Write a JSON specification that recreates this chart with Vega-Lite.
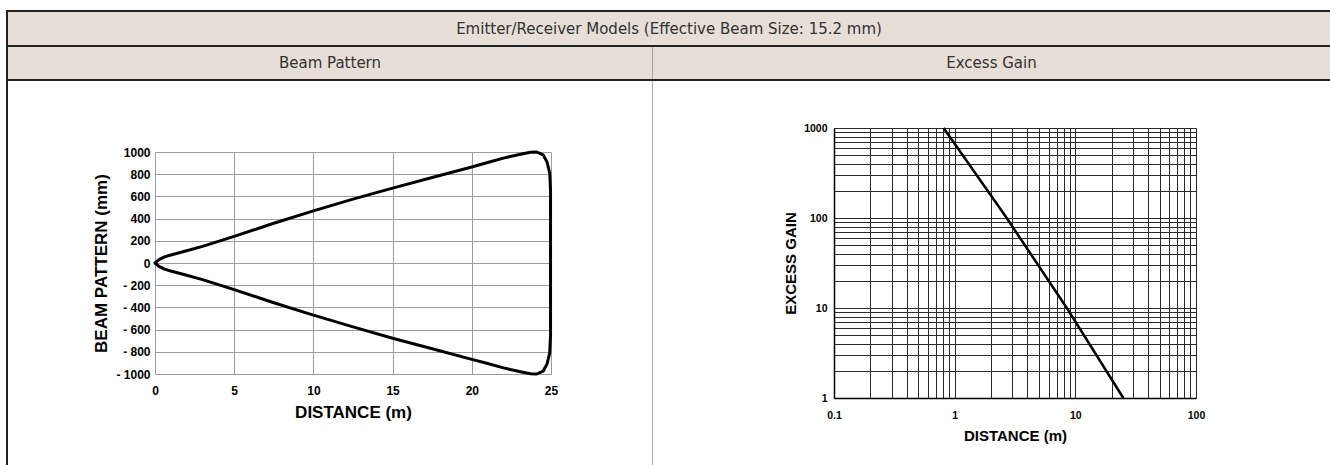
{
  "$schema": "https://vega.github.io/schema/vega-lite/v6.json",
  "padding": {"left": 6, "top": 10, "right": 0, "bottom": 0},
  "background": "white",
  "spacing": 0,
  "bounds": "full",
  "config": {
    "view": {"stroke": null},
    "concat": {"spacing": 0},
    "text": {"font": "DejaVu Sans", "fontSize": 15, "color": "#333"}
  },
  "datasets": {
    "none": [],
    "title": [{"label": "Emitter/Receiver Models (Effective Beam Size: 15.2 mm)"}],
    "left": [{"label": "Beam Pattern"}],
    "right": [{"label": "Excess Gain"}],
    "beam": [
      {"distance": 0, "beam": 0},
      {"distance": 0.25, "beam": 30},
      {"distance": 0.6, "beam": 55},
      {"distance": 1, "beam": 72},
      {"distance": 2, "beam": 110},
      {"distance": 3, "beam": 150},
      {"distance": 5, "beam": 240},
      {"distance": 7.5, "beam": 358},
      {"distance": 10, "beam": 470},
      {"distance": 12.5, "beam": 575},
      {"distance": 15, "beam": 675},
      {"distance": 17.5, "beam": 770},
      {"distance": 20, "beam": 865},
      {"distance": 21, "beam": 905},
      {"distance": 22, "beam": 945},
      {"distance": 23, "beam": 978},
      {"distance": 23.7, "beam": 997},
      {"distance": 24.1, "beam": 1000},
      {"distance": 24.5, "beam": 975},
      {"distance": 24.75, "beam": 910},
      {"distance": 24.92, "beam": 810},
      {"distance": 24.97, "beam": 650},
      {"distance": 24.97, "beam": -650},
      {"distance": 24.92, "beam": -810},
      {"distance": 24.75, "beam": -910},
      {"distance": 24.5, "beam": -975},
      {"distance": 24.1, "beam": -1000},
      {"distance": 23.7, "beam": -997},
      {"distance": 23, "beam": -978},
      {"distance": 22, "beam": -945},
      {"distance": 21, "beam": -905},
      {"distance": 20, "beam": -868},
      {"distance": 17.5, "beam": -772},
      {"distance": 15, "beam": -678},
      {"distance": 12.5, "beam": -575},
      {"distance": 10, "beam": -470},
      {"distance": 7.5, "beam": -358},
      {"distance": 5, "beam": -240},
      {"distance": 3, "beam": -150},
      {"distance": 2, "beam": -110},
      {"distance": 1, "beam": -72},
      {"distance": 0.6, "beam": -55},
      {"distance": 0.25, "beam": -30},
      {"distance": 0, "beam": 0}
    ],
    "gain": [
      {"distance": 0.81, "gain": 1000},
      {"distance": 2.7, "gain": 100},
      {"distance": 8.5, "gain": 10},
      {"distance": 25, "gain": 1}
    ]
  },
  "vconcat": [
    {"data": {"name": "none"}, "mark": "point", "encoding": {}, "width": 1324, "height": 2, "view": {"fill": "#222", "stroke": null}},
    {
      "hconcat": [
        {"data": {"name": "none"}, "mark": "point", "encoding": {}, "width": 2, "height": 33, "view": {"fill": "#222", "stroke": null}},
        {"data": {"name": "title"}, "mark": {"type": "text"}, "encoding": {"text": {"field": "label"}}, "width": 1322, "height": 33, "view": {"fill": "#e6ded7", "stroke": null}}
      ],
      "spacing": 0, "bounds": "flush"
    },
    {"data": {"name": "none"}, "mark": "point", "encoding": {}, "width": 1324, "height": 2, "view": {"fill": "#222", "stroke": null}},
    {
      "hconcat": [
        {"data": {"name": "none"}, "mark": "point", "encoding": {}, "width": 2, "height": 32, "view": {"fill": "#222", "stroke": null}},
        {"data": {"name": "left"}, "mark": {"type": "text"}, "encoding": {"text": {"field": "label"}}, "width": 644, "height": 32, "view": {"fill": "#e6ded7", "stroke": null}},
        {"data": {"name": "none"}, "mark": "point", "encoding": {}, "width": 1, "height": 32, "view": {"fill": "#a8a8a8", "stroke": null}},
        {"data": {"name": "right"}, "mark": {"type": "text"}, "encoding": {"text": {"field": "label"}}, "width": 677, "height": 32, "view": {"fill": "#e6ded7", "stroke": null}}
      ],
      "spacing": 0, "bounds": "flush"
    },
    {"data": {"name": "none"}, "mark": "point", "encoding": {}, "width": 1324, "height": 2, "view": {"fill": "#222", "stroke": null}},
    {
      "hconcat": [
        {"data": {"name": "none"}, "mark": "point", "encoding": {}, "width": 2, "height": 384, "view": {"fill": "#222", "stroke": null}},
        {
          "concat": [
            {"data": {"name": "none"}, "mark": "point", "encoding": {}, "width": 147, "height": 71},
            {"data": {"name": "none"}, "mark": "point", "encoding": {}, "width": 396, "height": 71},
            {"data": {"name": "none"}, "mark": "point", "encoding": {}, "width": 101, "height": 71},
            {"data": {"name": "none"}, "mark": "point", "encoding": {}, "width": 147, "height": 222},
            {
              "data": {"name": "beam"},
              "width": 396,
              "height": 222,
              "mark": {"type": "line", "color": "#000", "strokeWidth": 3, "strokeJoin": "round", "strokeCap": "round"},
              "encoding": {
                "x": {
                  "field": "distance", "type": "quantitative",
                  "scale": {"domain": [0, 25], "nice": false, "zero": false},
                  "axis": {
                    "title": "DISTANCE (m)", "values": [0, 5, 10, 15, 20, 25],
                    "grid": true, "gridColor": "#9c9c9c", "gridWidth": 1, "domain": false, "ticks": false,
                    "labelFlush": false, "labelOverlap": false, "labelPadding": 11,
                    "labelFont": "Liberation Sans", "labelFontWeight": "bold", "labelFontSize": 12, "labelColor": "#000",
                    "titleFont": "Liberation Sans", "titleFontWeight": "bold", "titleFontSize": 17, "titleColor": "#000", "titlePadding": 8
                  }
                },
                "y": {
                  "field": "beam", "type": "quantitative",
                  "scale": {"domain": [-1000, 1000], "nice": false},
                  "axis": {
                    "title": "BEAM PATTERN (mm)", "values": [-1000, -800, -600, -400, -200, 0, 200, 400, 600, 800, 1000],
                    "labelExpr": "datum.value < 0 ? '- ' + format(-datum.value, 'd') : format(datum.value, 'd')",
                    "grid": true, "gridColor": "#9c9c9c", "gridWidth": 1, "domain": false, "ticks": false,
                    "labelFlush": false, "labelOverlap": false, "labelPadding": 5,
                    "labelFont": "Liberation Sans", "labelFontWeight": "bold", "labelFontSize": 12, "labelColor": "#000",
                    "titleFont": "Liberation Sans", "titleFontWeight": "bold", "titleFontSize": 17, "titleColor": "#000", "titlePadding": 5
                  }
                },
                "order": {"value": null}
              }
            },
            {"data": {"name": "none"}, "mark": "point", "encoding": {}, "width": 101, "height": 222}
          ],
          "columns": 3, "align": "each", "spacing": 0, "bounds": "flush"
        },
        {"data": {"name": "none"}, "mark": "point", "encoding": {}, "width": 1, "height": 384, "view": {"fill": "#a8a8a8", "stroke": null}},
        {
          "concat": [
            {"data": {"name": "none"}, "mark": "point", "encoding": {}, "width": 181, "height": 47},
            {"data": {"name": "none"}, "mark": "point", "encoding": {}, "width": 362, "height": 47},
            {"data": {"name": "none"}, "mark": "point", "encoding": {}, "width": 181, "height": 270},
            {
              "data": {"name": "gain"},
              "width": 362,
              "height": 270,
              "mark": {"type": "line", "color": "#000", "strokeWidth": 2.5},
              "encoding": {
                "x": {
                  "field": "distance", "type": "quantitative",
                  "scale": {"type": "log", "domain": [0.1, 100], "nice": false},
                  "axis": {
                    "title": "DISTANCE (m)",
                    "values": [0.1, 0.2, 0.3, 0.4, 0.5, 0.6, 0.7, 0.8, 0.9, 1, 2, 3, 4, 5, 6, 7, 8, 9, 10, 20, 30, 40, 50, 60, 70, 80, 90, 100],
                    "labelExpr": "datum.value == 0.1 || datum.value == 1 || datum.value == 10 || datum.value == 100 ? format(datum.value, '~g') : ''",
                    "grid": true, "gridColor": "#2a2a2a", "gridWidth": 1, "domain": true, "domainColor": "#000", "domainWidth": 1.5, "ticks": false,
                    "labelFlush": false, "labelOverlap": false, "labelPadding": 12,
                    "labelFont": "Liberation Sans", "labelFontWeight": "bold", "labelFontSize": 10.5, "labelColor": "#000",
                    "titleFont": "Liberation Sans", "titleFontWeight": "bold", "titleFontSize": 15, "titleColor": "#000", "titlePadding": 8
                  }
                },
                "y": {
                  "field": "gain", "type": "quantitative",
                  "scale": {"type": "log", "domain": [1, 1000], "nice": false},
                  "axis": {
                    "title": "EXCESS GAIN",
                    "values": [1, 2, 3, 4, 5, 6, 7, 8, 9, 10, 20, 30, 40, 50, 60, 70, 80, 90, 100, 200, 300, 400, 500, 600, 700, 800, 900, 1000],
                    "labelExpr": "datum.value == 1 || datum.value == 10 || datum.value == 100 || datum.value == 1000 ? format(datum.value, '~g') : ''",
                    "grid": true, "gridColor": "#2a2a2a", "gridWidth": 1, "domain": true, "domainColor": "#000", "domainWidth": 1.5, "ticks": false,
                    "labelFlush": false, "labelOverlap": false, "labelPadding": 7,
                    "labelFont": "Liberation Sans", "labelFontWeight": "bold", "labelFontSize": 10.5, "labelColor": "#000",
                    "titleFont": "Liberation Sans", "titleFontWeight": "bold", "titleFontSize": 15, "titleColor": "#000", "titlePadding": 5
                  }
                },
                "order": {"value": null}
              }
            }
          ],
          "columns": 2, "align": "each", "spacing": 0, "bounds": "flush"
        }
      ],
      "spacing": 0, "bounds": "full"
    }
  ]
}
